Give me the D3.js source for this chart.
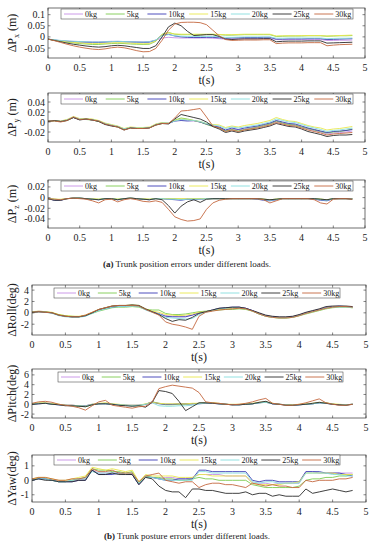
<!DOCTYPE html>
<html><head><meta charset="utf-8">
<script src="https://cdn.jsdelivr.net/npm/d3@7"></script>
<style>
body{margin:0;background:#fff}
svg text{font-family:"Liberation Serif","Times New Roman","DejaVu Serif",serif;fill:#222}
</style>
</head><body>
<svg id="chart" width="375" height="550" font-family="Liberation Serif, Times New Roman, serif"></svg>
<script>
// sample times (s)
const t = [0,0.1,0.2,0.3,0.4,0.5,0.6,0.7,0.8,0.9,1.0,1.1,1.2,1.3,1.4,1.5,1.6,1.7,1.8,1.9,
  2.0,2.1,2.2,2.3,2.4,2.5,2.6,2.7,2.8,2.9,3.0,3.1,3.2,3.3,3.4,3.5,3.6,3.7,3.8,3.9,
  4.0,4.1,4.2,4.3,4.4,4.5,4.6,4.7,4.8];
const loads = ["0kg","5kg","10kg","15kg","20kg","25kg","30kg"];
const colors = ["#c68ee6","#7dcb4f","#3b3bb5","#e9e84c","#86dede","#2a2a2a","#c4683f"];
const xTicks = [0,0.5,1,1.5,2,2.5,3,3.5,4,4.5,5];

// ---- trunk position errors (m) ----
const px0 = [-0.010,-0.014,-0.017,-0.019,-0.020,-0.021,-0.022,-0.022,-0.022,-0.021,
  -0.020,-0.020,-0.021,-0.022,-0.022,-0.022,-0.021,-0.015,-0.005,-0.002,
  -0.004,-0.005,-0.005,-0.005,-0.005,-0.005,-0.006,-0.008,-0.010,-0.010,
  -0.009,-0.008,-0.008,-0.008,-0.007,-0.007,-0.012,-0.013,-0.012,-0.012,
  -0.012,-0.012,-0.012,-0.012,-0.016,-0.016,-0.015,-0.015,-0.014];
const px5 = [-0.010,-0.015,-0.020,-0.024,-0.027,-0.030,-0.032,-0.034,-0.034,-0.032,
  -0.030,-0.029,-0.030,-0.032,-0.033,-0.034,-0.033,-0.020,0.012,0.020,
  0.012,0.010,0.010,0.010,0.010,0.011,0.011,0.010,0.008,0.008,
  0.009,0.010,0.010,0.010,0.010,0.010,0.002,0.003,0.004,0.004,
  0.004,0.005,0.005,0.005,0.003,0.004,0.005,0.005,0.006];
const px10 = [-0.010,-0.014,-0.018,-0.020,-0.022,-0.023,-0.024,-0.025,-0.025,-0.024,
  -0.022,-0.021,-0.022,-0.023,-0.024,-0.025,-0.024,-0.015,0.008,0.012,
  0.004,0.000,-0.002,-0.003,-0.003,-0.002,-0.002,-0.004,-0.006,-0.005,
  -0.004,-0.003,-0.003,-0.003,-0.002,-0.002,-0.010,-0.010,-0.009,-0.009,
  -0.009,-0.008,-0.008,-0.008,-0.012,-0.011,-0.010,-0.009,-0.008];
const px15 = [-0.010,-0.015,-0.019,-0.022,-0.025,-0.027,-0.029,-0.030,-0.030,-0.029,
  -0.027,-0.026,-0.027,-0.028,-0.030,-0.031,-0.030,-0.018,0.010,0.018,
  0.013,0.012,0.012,0.012,0.012,0.012,0.012,0.011,0.010,0.010,
  0.011,0.012,0.012,0.012,0.012,0.012,0.004,0.005,0.005,0.005,
  0.006,0.006,0.006,0.006,0.004,0.005,0.006,0.007,0.008];
const px20 = [-0.010,-0.013,-0.016,-0.018,-0.020,-0.021,-0.022,-0.023,-0.023,-0.022,
  -0.021,-0.020,-0.021,-0.022,-0.023,-0.023,-0.022,-0.014,0.005,0.010,
  0.005,0.003,0.002,0.002,0.002,0.002,0.002,0.000,-0.002,-0.002,
  -0.001,0.000,0.000,0.000,0.000,0.000,-0.006,-0.006,-0.005,-0.005,
  -0.005,-0.005,-0.005,-0.005,-0.008,-0.007,-0.006,-0.006,-0.005];
const px25 = [-0.010,-0.016,-0.022,-0.028,-0.033,-0.037,-0.041,-0.044,-0.046,-0.044,
  -0.040,-0.038,-0.040,-0.044,-0.048,-0.052,-0.052,-0.040,0.000,0.045,
  0.062,0.050,0.025,0.006,0.008,0.010,0.010,0.002,-0.010,-0.012,
  -0.010,-0.009,-0.009,-0.009,-0.008,-0.008,-0.022,-0.020,-0.019,-0.019,
  -0.019,-0.018,-0.018,-0.018,-0.028,-0.027,-0.026,-0.025,-0.024];
const px30 = [-0.010,-0.017,-0.025,-0.033,-0.040,-0.046,-0.051,-0.055,-0.057,-0.054,
  -0.049,-0.046,-0.049,-0.055,-0.062,-0.067,-0.066,-0.052,-0.015,0.030,
  0.058,0.065,0.066,0.066,0.064,0.055,0.030,0.005,-0.012,-0.016,
  -0.015,-0.014,-0.014,-0.014,-0.013,-0.013,-0.030,-0.028,-0.027,-0.027,
  -0.027,-0.026,-0.026,-0.026,-0.040,-0.037,-0.035,-0.034,-0.033];

const py0 = [0.003,0.003,0.002,0.004,0.010,0.006,0.006,0.005,0.002,-0.003,
  -0.006,-0.009,-0.015,-0.011,-0.012,-0.013,-0.011,-0.005,-0.002,-0.002,
  0.002,0.004,0.003,0.002,0.000,-0.004,-0.008,-0.011,-0.017,-0.014,
  -0.016,-0.014,-0.012,-0.010,-0.007,-0.004,0.001,-0.002,-0.005,-0.006,
  -0.010,-0.014,-0.017,-0.020,-0.024,-0.022,-0.021,-0.020,-0.018];
const py5 = [0.002,0.002,0.001,0.003,0.009,0.005,0.005,0.004,0.001,-0.004,
  -0.007,-0.010,-0.015,-0.012,-0.013,-0.012,-0.011,-0.006,-0.003,-0.003,
  0.004,0.008,0.006,0.003,0.000,-0.005,-0.009,-0.012,-0.018,-0.015,
  -0.018,-0.015,-0.013,-0.010,-0.007,-0.004,0.002,-0.002,-0.005,-0.006,
  -0.010,-0.013,-0.016,-0.019,-0.022,-0.020,-0.019,-0.017,-0.014];
const py10 = [0.002,0.003,0.001,0.004,0.009,0.005,0.006,0.004,0.002,-0.004,
  -0.007,-0.009,-0.014,-0.011,-0.012,-0.012,-0.011,-0.005,-0.002,-0.003,
  0.002,0.003,0.002,0.003,0.000,-0.004,-0.008,-0.010,-0.016,-0.012,
  -0.015,-0.012,-0.010,-0.008,-0.005,-0.002,0.003,0.000,-0.003,-0.004,
  -0.008,-0.012,-0.015,-0.018,-0.021,-0.019,-0.018,-0.017,-0.015];
const py15 = [0.002,0.003,0.002,0.005,0.011,0.007,0.007,0.006,0.003,-0.002,
  -0.005,-0.008,-0.013,-0.010,-0.011,-0.011,-0.010,-0.004,-0.001,-0.002,
  0.003,0.006,0.005,0.003,0.001,-0.003,-0.005,-0.006,-0.011,-0.008,
  -0.010,-0.007,-0.005,-0.003,0.000,0.003,0.009,0.005,0.002,0.001,
  -0.003,-0.007,-0.010,-0.012,-0.016,-0.014,-0.013,-0.011,-0.009];
const py20 = [0.002,0.003,0.001,0.004,0.010,0.006,0.006,0.005,0.002,-0.003,
  -0.006,-0.009,-0.014,-0.011,-0.012,-0.012,-0.011,-0.005,-0.002,-0.002,
  0.002,0.005,0.004,0.003,0.001,-0.003,-0.006,-0.008,-0.013,-0.010,
  -0.012,-0.010,-0.008,-0.006,-0.003,0.000,0.006,0.003,0.000,-0.001,
  -0.005,-0.009,-0.012,-0.015,-0.019,-0.017,-0.016,-0.014,-0.012];
const py25 = [0.001,0.003,0.001,0.003,0.009,0.004,0.006,0.004,0.001,-0.005,
  -0.008,-0.010,-0.016,-0.012,-0.013,-0.013,-0.012,-0.006,-0.003,-0.004,
  0.006,0.015,0.012,0.009,0.006,0.000,-0.009,-0.014,-0.021,-0.018,
  -0.021,-0.018,-0.016,-0.014,-0.011,-0.008,-0.003,-0.006,-0.009,-0.010,
  -0.014,-0.019,-0.022,-0.025,-0.029,-0.027,-0.026,-0.026,-0.025];
const py30 = [0.002,0.002,0.000,0.003,0.010,0.005,0.006,0.004,0.002,-0.004,
  -0.007,-0.010,-0.016,-0.012,-0.013,-0.013,-0.012,-0.006,-0.003,-0.003,
  0.008,0.022,0.023,0.025,0.027,0.010,-0.008,-0.012,-0.019,-0.016,
  -0.019,-0.016,-0.014,-0.012,-0.009,-0.006,-0.001,-0.004,-0.007,-0.008,
  -0.012,-0.016,-0.019,-0.022,-0.026,-0.024,-0.023,-0.022,-0.021];

const pz0 = [-0.002,-0.004,-0.004,-0.002,-0.001,-0.001,-0.002,-0.003,-0.004,-0.002,
  -0.002,-0.004,-0.002,-0.001,-0.002,-0.003,-0.004,-0.002,-0.002,-0.003,
  -0.003,-0.003,-0.002,-0.003,-0.003,-0.002,-0.002,-0.002,-0.002,-0.002,
  -0.002,-0.002,-0.002,-0.002,-0.003,-0.005,-0.004,-0.002,-0.002,-0.002,
  -0.002,-0.002,-0.002,-0.004,-0.005,-0.002,-0.002,-0.002,-0.002];
const pz5 = [-0.002,-0.003,-0.004,-0.002,-0.001,-0.001,-0.002,-0.003,-0.003,-0.002,
  -0.002,-0.003,-0.002,-0.001,-0.002,-0.003,-0.003,-0.002,-0.002,-0.002,
  -0.002,-0.003,-0.003,-0.002,-0.002,-0.002,-0.002,-0.002,-0.002,-0.002,
  -0.002,-0.002,-0.002,-0.002,-0.003,-0.004,-0.003,-0.002,-0.002,-0.002,
  -0.002,-0.002,-0.002,-0.003,-0.004,-0.002,-0.002,-0.002,-0.002];
const pz10 = [-0.002,-0.005,-0.005,-0.002,-0.001,-0.001,-0.002,-0.003,-0.004,-0.002,
  -0.002,-0.004,-0.002,-0.001,-0.002,-0.003,-0.004,-0.002,-0.002,-0.003,
  -0.004,-0.005,-0.003,-0.004,-0.003,-0.002,-0.002,-0.002,-0.002,-0.002,
  -0.002,-0.002,-0.002,-0.003,-0.005,-0.006,-0.004,-0.002,-0.002,-0.002,
  -0.002,-0.002,-0.003,-0.005,-0.006,-0.002,-0.002,-0.002,-0.002];
const pz15 = [-0.002,-0.003,-0.003,-0.002,-0.001,-0.001,-0.002,-0.002,-0.003,-0.002,
  -0.002,-0.003,-0.002,-0.001,-0.002,-0.002,-0.003,-0.002,-0.002,-0.002,
  -0.002,-0.002,-0.002,-0.002,-0.002,-0.002,-0.002,-0.002,-0.002,-0.002,
  -0.002,-0.002,-0.002,-0.002,-0.003,-0.004,-0.003,-0.002,-0.002,-0.002,
  -0.002,-0.002,-0.002,-0.003,-0.004,-0.002,-0.002,-0.002,-0.002];
const pz20 = [-0.002,-0.004,-0.004,-0.002,-0.001,-0.001,-0.002,-0.003,-0.004,-0.002,
  -0.002,-0.004,-0.002,-0.001,-0.002,-0.003,-0.004,-0.002,-0.002,-0.003,
  -0.003,-0.004,-0.003,-0.003,-0.003,-0.002,-0.002,-0.002,-0.002,-0.002,
  -0.002,-0.002,-0.002,-0.002,-0.004,-0.005,-0.004,-0.002,-0.002,-0.002,
  -0.002,-0.002,-0.002,-0.004,-0.005,-0.002,-0.002,-0.002,-0.002];
const pz25 = [-0.002,-0.005,-0.005,-0.002,-0.001,-0.001,-0.002,-0.003,-0.004,-0.002,
  -0.002,-0.004,-0.002,-0.001,-0.002,-0.003,-0.004,-0.002,-0.004,-0.015,
  -0.029,-0.016,-0.008,-0.004,-0.009,-0.003,-0.002,-0.002,-0.002,-0.002,
  -0.002,-0.002,-0.002,-0.002,-0.003,-0.004,-0.003,-0.002,-0.002,-0.002,
  -0.002,-0.002,-0.002,-0.003,-0.004,-0.002,-0.002,-0.002,-0.003];
const pz30 = [-0.002,-0.003,-0.004,-0.002,-0.001,-0.002,-0.003,-0.006,-0.010,-0.004,
  -0.003,-0.008,-0.004,-0.002,-0.004,-0.007,-0.008,-0.006,-0.009,-0.022,
  -0.036,-0.041,-0.044,-0.043,-0.040,-0.022,-0.010,-0.005,-0.003,-0.002,
  -0.002,-0.002,-0.002,-0.002,-0.004,-0.010,-0.006,-0.002,-0.002,-0.002,
  -0.002,-0.002,-0.004,-0.010,-0.012,-0.003,-0.002,-0.002,-0.003];

// ---- trunk posture errors (deg) ----
const roll0 = [0.1,0.3,0.2,0.0,-0.4,-0.6,-0.7,-0.7,-0.5,0.0,
  0.5,0.8,1.1,1.2,1.2,1.3,1.2,0.6,0.2,-0.1,
  -0.5,-0.6,-0.6,-0.6,-0.4,0.0,0.2,0.4,0.7,0.8,
  0.9,1.0,0.8,0.4,-0.1,-0.5,-0.7,-0.8,-0.8,-0.7,
  -0.4,0.0,0.3,0.6,0.9,1.1,1.1,1.1,1.0];
const roll5 = [0.0,0.2,0.2,0.0,-0.3,-0.5,-0.6,-0.7,-0.5,-0.1,
  0.3,0.6,0.9,1.0,1.0,1.1,1.0,0.6,0.5,0.5,
  -0.1,-0.3,-0.3,-0.2,0.0,0.2,0.3,0.4,0.5,0.6,
  0.6,0.7,0.6,0.3,-0.2,-0.6,-0.8,-0.9,-0.9,-0.8,
  -0.5,-0.2,0.1,0.4,0.7,0.9,1.0,1.0,0.9];
const roll10 = [0.1,0.2,0.2,0.0,-0.4,-0.6,-0.7,-0.7,-0.5,0.0,
  0.5,0.8,1.0,1.2,1.2,1.3,1.2,0.6,0.2,-0.2,
  -0.6,-0.7,-0.7,-0.7,-0.4,0.0,0.2,0.5,0.8,0.9,
  1.0,1.0,0.8,0.4,-0.1,-0.5,-0.7,-0.8,-0.8,-0.7,
  -0.4,0.0,0.3,0.6,0.9,1.1,1.2,1.1,1.0];
const roll15 = [0.2,0.3,0.2,0.1,-0.3,-0.5,-0.6,-0.6,-0.4,0.1,
  0.6,0.9,1.2,1.3,1.3,1.4,1.3,0.7,0.3,0.1,
  -0.3,-0.4,-0.5,-0.4,-0.2,0.1,0.2,0.4,0.6,0.7,
  0.8,0.9,0.7,0.3,-0.2,-0.6,-0.8,-0.9,-0.9,-0.8,
  -0.5,-0.1,0.2,0.5,0.8,1.0,1.1,1.0,0.9];
const roll20 = [0.1,0.2,0.1,-0.1,-0.5,-0.7,-0.8,-0.8,-0.6,-0.1,
  0.4,0.7,1.0,1.1,1.1,1.2,1.1,0.5,0.1,-0.2,
  -0.8,-0.9,-1.0,-1.1,-1.0,-0.3,0.1,0.4,0.7,0.8,
  0.9,0.9,0.7,0.3,-0.2,-0.6,-0.8,-0.9,-0.9,-0.8,
  -0.5,-0.1,0.2,0.5,0.8,1.0,1.0,1.0,0.9];
const roll25 = [0.1,0.2,0.1,0.0,-0.4,-0.6,-0.7,-0.7,-0.5,0.0,
  0.6,0.9,1.2,1.3,1.3,1.4,1.3,0.7,0.2,-0.3,
  -1.0,-1.5,-1.2,-1.3,-0.8,-0.1,0.2,0.5,0.8,0.9,
  1.0,1.0,0.8,0.4,0.0,-0.4,-0.6,-0.7,-0.7,-0.6,
  -0.3,0.1,0.4,0.7,1.1,1.2,1.2,1.2,1.1];
const roll30 = [0.1,0.2,0.1,0.0,-0.4,-0.6,-0.7,-0.7,-0.4,0.1,
  0.6,0.9,1.2,1.3,1.3,1.3,1.2,0.6,0.1,-0.4,
  -1.6,-2.0,-2.2,-2.5,-2.9,-0.6,0.1,0.3,0.5,0.6,
  0.7,0.8,0.7,0.3,-0.2,-0.6,-0.8,-0.9,-0.9,-0.8,
  -0.5,-0.1,0.2,0.5,0.8,1.0,1.1,1.1,1.0];

const pitch0 = [0.0,0.2,0.3,0.1,-0.1,-0.2,-0.2,-0.3,-0.4,-0.1,
  0.1,0.2,0.0,-0.1,-0.2,-0.3,-0.2,0.0,0.3,0.2,
  0.0,0.0,0.1,0.1,0.1,0.2,0.3,0.2,0.1,0.0,
  -0.1,-0.1,0.0,0.1,0.3,0.4,0.1,0.0,-0.1,-0.2,
  -0.1,0.0,0.1,0.3,0.2,0.0,-0.1,-0.1,0.0];
const pitch5 = [0.0,0.2,0.2,0.1,0.0,-0.2,-0.3,-0.4,-0.5,-0.1,
  0.1,0.2,0.0,-0.1,-0.2,-0.3,-0.3,0.0,0.5,0.2,
  -0.1,-0.1,0.0,0.0,0.1,0.2,0.3,0.3,0.1,0.0,
  -0.1,-0.1,0.0,0.1,0.3,0.4,0.2,0.0,-0.1,-0.2,
  -0.1,0.0,0.1,0.3,0.3,0.0,-0.1,-0.1,0.0];
const pitch10 = [0.0,0.1,0.2,0.0,-0.1,-0.2,-0.2,-0.3,-0.3,0.0,
  0.1,0.1,0.0,-0.1,-0.2,-0.2,-0.2,0.0,0.5,0.1,
  0.0,0.0,0.1,0.1,0.1,0.1,0.2,0.2,0.1,0.0,
  -0.1,-0.1,0.0,0.1,0.3,0.5,0.1,0.0,-0.1,-0.2,
  -0.1,0.0,0.1,0.3,0.3,0.0,-0.1,-0.1,0.0];
const pitch15 = [0.1,0.3,0.3,0.1,0.0,-0.2,-0.2,-0.3,-0.4,0.0,
  0.2,0.3,0.1,0.0,-0.2,-0.2,-0.2,0.1,0.4,0.2,
  0.1,0.1,0.1,0.1,0.2,0.2,0.3,0.3,0.2,0.0,
  0.0,0.0,0.1,0.2,0.4,0.5,0.2,0.0,-0.1,-0.1,
  0.0,0.1,0.2,0.4,0.3,0.1,0.0,-0.1,0.0];
const pitch20 = [0.0,0.2,0.2,0.0,-0.1,-0.2,-0.3,-0.3,-0.4,-0.1,
  0.1,0.1,0.0,-0.1,-0.2,-0.3,-0.2,0.0,0.3,-0.3,
  -0.4,-0.4,-0.3,-0.3,-0.2,0.1,0.3,0.2,0.1,0.0,
  -0.1,-0.1,0.0,0.1,0.3,0.4,0.1,0.0,-0.1,-0.2,
  -0.1,0.0,0.1,0.3,0.2,0.0,-0.1,-0.1,0.0];
const pitch25 = [0.0,0.1,0.2,0.0,-0.1,-0.3,-0.3,-0.4,-0.5,-0.1,
  0.1,0.1,0.0,-0.2,-0.3,-0.4,-0.3,-0.6,0.4,2.8,
  2.6,2.2,0.6,-1.3,-0.5,0.3,0.3,0.2,0.1,0.0,
  -0.1,-0.1,0.0,0.1,0.4,0.6,0.1,0.0,-0.2,-0.2,
  -0.1,0.0,0.2,0.4,0.2,0.0,-0.1,-0.2,0.0];
const pitch30 = [0.2,0.5,0.6,0.4,0.0,-0.2,-0.4,-0.7,-1.2,-0.3,
  0.5,0.8,-0.2,-0.4,-0.6,-0.8,-0.5,-0.4,0.5,3.2,
  3.6,3.9,3.7,3.5,3.3,2.4,0.5,0.3,0.2,0.0,
  -0.1,0.0,0.2,0.5,0.9,1.2,0.2,0.0,-0.2,-0.2,
  0.0,0.3,0.7,1.1,0.3,0.0,-0.2,-0.2,0.0];

const yaw0 = [0.0,0.1,0.1,0.0,0.0,-0.1,0.0,0.1,0.1,0.7,
  0.5,0.5,0.5,0.5,0.4,0.5,-0.2,0.3,0.2,0.1,
  0.2,0.2,0.1,0.1,0.2,0.4,0.4,0.4,0.4,0.3,
  0.3,0.3,0.3,-0.2,-0.2,-0.2,-0.3,-0.2,-0.2,-0.2,
  -0.2,0.6,0.6,0.5,0.5,0.5,0.5,0.5,0.5];
const yaw5 = [0.0,0.2,0.1,0.0,-0.1,-0.1,0.0,0.1,0.2,0.8,
  0.7,0.7,0.6,0.6,0.5,0.6,-0.2,0.3,0.2,0.2,
  0.1,0.1,0.0,0.0,0.1,0.2,0.1,0.1,0.0,0.0,
  0.0,0.0,0.0,-0.3,-0.4,-0.5,-0.5,-0.5,-0.5,-0.5,
  -0.4,0.0,0.1,0.1,0.2,0.2,0.3,0.3,0.4];
const yaw10 = [0.0,0.1,0.1,0.0,-0.1,-0.1,-0.1,0.0,0.0,0.7,
  0.4,0.4,0.4,0.5,0.4,0.4,-0.3,0.2,0.2,0.1,
  0.0,0.0,0.1,0.1,0.1,0.7,0.7,0.6,0.6,0.6,
  0.6,0.6,0.6,0.0,-0.1,0.0,0.0,-0.1,-0.1,-0.1,
  -0.1,0.6,0.6,0.6,0.5,0.5,0.5,0.4,0.3];
const yaw15 = [0.1,0.2,0.2,0.1,0.0,0.0,0.1,0.2,0.3,0.9,
  0.8,0.7,0.8,0.7,0.6,0.7,-0.1,0.4,0.3,0.3,
  0.3,0.3,0.2,0.2,0.2,0.4,0.4,0.3,0.3,0.3,
  0.3,0.3,0.3,-0.2,-0.3,-0.3,-0.3,-0.3,-0.2,-0.2,
  -0.1,0.5,0.5,0.5,0.5,0.5,0.4,0.4,0.4];
const yaw20 = [0.0,0.1,0.1,0.0,-0.1,-0.1,0.0,0.1,0.1,0.6,
  0.5,0.5,0.5,0.5,0.4,0.5,-0.2,0.2,0.2,0.1,
  0.0,0.0,0.0,0.0,0.0,0.6,0.6,0.5,0.5,0.5,
  0.5,0.5,0.5,-0.1,-0.2,-0.1,-0.1,-0.2,-0.2,-0.2,
  -0.2,0.5,0.5,0.5,0.5,0.4,0.4,0.3,0.3];
const yaw25 = [0.0,0.1,0.0,0.0,-0.1,-0.1,-0.1,0.0,0.0,0.7,
  0.4,0.4,0.5,0.4,0.4,0.4,-0.3,0.2,0.1,-0.4,
  -0.7,-0.8,-0.8,-1.2,-0.6,-0.6,-0.7,-0.7,-0.8,-0.9,
  -0.9,-0.9,-0.8,-1.0,-0.9,-0.9,-1.1,-1.0,-1.1,-1.1,
  -1.1,-0.6,-0.9,-0.8,-0.7,-0.6,-0.7,-0.8,-0.7];
const yaw30 = [0.1,0.2,0.2,0.1,0.0,0.0,0.1,0.1,0.2,0.8,
  0.6,0.6,0.7,0.5,0.5,0.5,-0.1,0.3,0.4,0.5,
  0.0,-0.1,-0.2,-0.1,-0.1,-0.5,-0.3,-0.2,-0.2,-0.3,
  -0.3,-0.4,-0.5,-0.2,-0.3,-0.4,-0.3,-0.4,-0.4,-0.5,
  -0.5,0.0,-0.1,0.0,0.0,0.0,0.1,0.1,0.2];

// y-axis ticks
const pxTicks = [-0.05,0,0.05,0.1];
const pyTicks = [-0.02,0,0.02,0.04];
const pzTicks = [-0.04,-0.02,0,0.02];
const rollTicks = [-2,0,2,4];
const pitchTicks = [-2,0,2,4,6];
const yawTicks = [-1,0,1];

const panels = [
  {series:[px0,px5,px10,px15,px20,px25,px30], dom:[-0.095,0.13], ticks:pxTicks, lab:["ΔP","x","(m)"], l:48, r:365, top:8, bot:58, leg:[61,9,292]},
  {series:[py0,py5,py10,py15,py20,py25,py30], dom:[-0.04,0.058], ticks:pyTicks, lab:["ΔP","y","(m)"], l:48, r:365, top:93, bot:142, leg:[61,94,292]},
  {series:[pz0,pz5,pz10,pz15,pz20,pz25,pz30], dom:[-0.057,0.033], ticks:pzTicks, lab:["ΔP","z","(m)"], l:48, r:365, top:180, bot:228, leg:[61,181,292]},
  {series:[roll0,roll5,roll10,roll15,roll20,roll25,roll30], dom:[-3.9,4.9], ticks:rollTicks, lab:["ΔRoll(deg)"], l:32, r:366, top:285, bot:335, leg:[54,288,286]},
  {series:[pitch0,pitch5,pitch10,pitch15,pitch20,pitch25,pitch30], dom:[-2.8,7.2], ticks:pitchTicks, lab:["ΔPitch(deg)"], l:32, r:366, top:369, bot:418, leg:[58,372,285]},
  {series:[yaw0,yaw5,yaw10,yaw15,yaw20,yaw25,yaw30], dom:[-1.5,1.75], ticks:yawTicks, lab:["ΔYaw(deg)"], l:32, r:366, top:455, bot:502, leg:[54,455,286]}
];

const FONT = "Liberation Serif, Times New Roman, serif";
const svg = d3.select("#chart");
svg.append("rect").attr("width",375).attr("height",550).attr("fill","#fff");

panels.forEach((p, pi) => {
  const x = d3.scaleLinear().domain([0,5]).range([p.l, p.r]);
  const y = d3.scaleLinear().domain(p.dom).range([p.bot, p.top]);
  const g = svg.append("g").attr("font-family", FONT);

  g.append("clipPath").attr("id","clip"+pi).append("rect")
    .attr("x",p.l).attr("y",p.top).attr("width",p.r-p.l).attr("height",p.bot-p.top);

  const line = d3.line().x((d,i) => x(t[i])).y(d => y(d));
  const lines = g.append("g").attr("clip-path","url(#clip"+pi+")");
  p.series.forEach((s, si) => {
    lines.append("path").attr("d", line(s))
      .attr("fill","none").attr("stroke",colors[si]).attr("stroke-width",0.9)
      .attr("stroke-linejoin","round");
  });

  // box
  g.append("rect").attr("x",p.l).attr("y",p.top).attr("width",p.r-p.l).attr("height",p.bot-p.top)
    .attr("fill","none").attr("stroke","#333").attr("stroke-width",0.7);

  // x axis ticks + labels
  xTicks.forEach(v => {
    g.append("line").attr("x1",x(v)).attr("x2",x(v)).attr("y1",p.bot).attr("y2",p.bot-2.5)
      .attr("stroke","#333").attr("stroke-width",0.6);
    g.append("line").attr("x1",x(v)).attr("x2",x(v)).attr("y1",p.top).attr("y2",p.top+2.5)
      .attr("stroke","#333").attr("stroke-width",0.6);
    g.append("text").attr("x",x(v)).attr("y",p.bot+13).attr("text-anchor","middle")
      .attr("font-size",10).text(v);
  });
  g.append("text").attr("x",(p.l+p.r)/2).attr("y",p.bot+26).attr("text-anchor","middle")
    .attr("font-size",12).text("t(s)");

  // y axis ticks + labels
  p.ticks.forEach(v => {
    g.append("line").attr("x1",p.l).attr("x2",p.l+2.5).attr("y1",y(v)).attr("y2",y(v))
      .attr("stroke","#333").attr("stroke-width",0.6);
    g.append("line").attr("x1",p.r).attr("x2",p.r-2.5).attr("y1",y(v)).attr("y2",y(v))
      .attr("stroke","#333").attr("stroke-width",0.6);
    g.append("text").attr("x",p.l-3).attr("y",y(v)+3.5).attr("text-anchor","end")
      .attr("font-size",10).text(v);
  });

  // y label
  const cy = (p.top+p.bot)/2;
  const yl = g.append("text").attr("transform",`translate(16,${cy}) rotate(-90)`)
    .attr("text-anchor","middle").attr("font-size",12);
  if (p.lab.length === 3) {
    yl.append("tspan").text(p.lab[0]);
    yl.append("tspan").attr("font-size",8).attr("dy",3).text(p.lab[1]);
    yl.append("tspan").attr("dy",-3).text(" " + p.lab[2]);
  } else {
    yl.text(p.lab[0]);
  }

  // legend
  const [lx, ly, lw] = p.leg;
  const lg = g.append("g");
  lg.append("rect").attr("x",lx).attr("y",ly).attr("width",lw).attr("height",10)
    .attr("fill","#fff").attr("stroke","#333").attr("stroke-width",0.5);
  const step = lw / loads.length;
  loads.forEach((name, i) => {
    const ex = lx + 3 + i*step;
    lg.append("line").attr("x1",ex).attr("x2",ex+19).attr("y1",ly+5).attr("y2",ly+5)
      .attr("stroke",colors[i]).attr("stroke-width",0.9);
    lg.append("text").attr("x",ex+21).attr("y",ly+8).attr("font-size",8).text(name);
  });
});

// captions
const caps = [["(a)"," Trunk position errors under different loads.",267],
              ["(b)"," Trunk posture errors under different loads.",539]];
caps.forEach(c => {
  const tx = svg.append("text").attr("font-family", FONT).attr("x",187).attr("y",c[2])
    .attr("text-anchor","middle").attr("font-size",9);
  tx.append("tspan").attr("font-weight","bold").text(c[0]);
  tx.append("tspan").text(c[1]);
});
</script>
</body></html>
